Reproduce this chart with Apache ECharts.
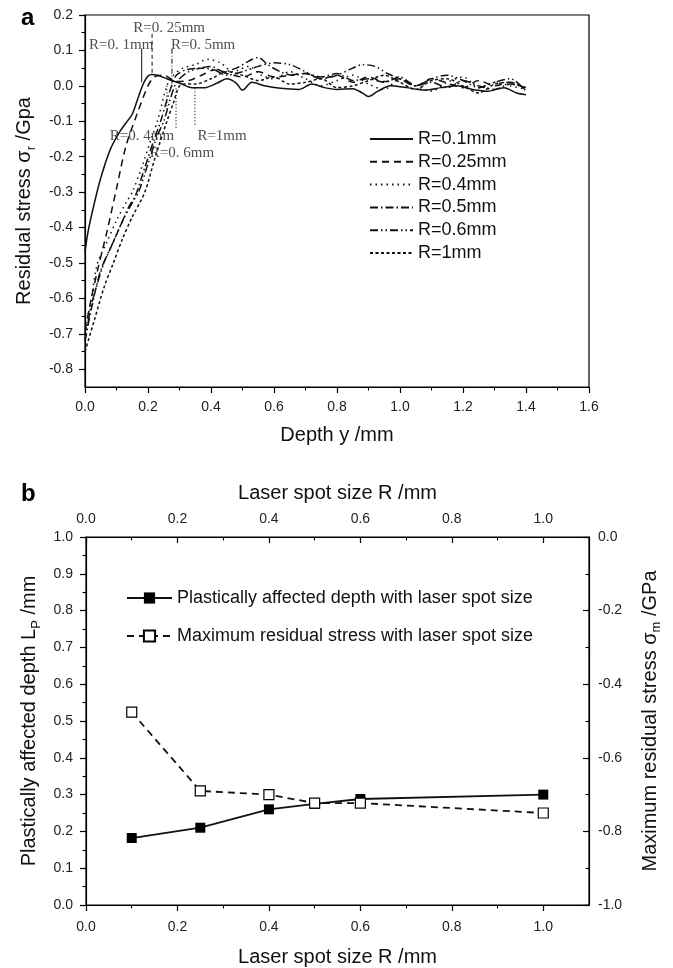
<!DOCTYPE html>
<html><head><meta charset="utf-8">
<script src="https://cdn.jsdelivr.net/npm/echarts@6/dist/echarts.min.js"></script>
<style>html,body{margin:0;padding:0;background:#fff}#c{width:673px;height:968px}</style>
</head><body><div id="c"></div>
<script>
// ---------- Panel a : residual stress vs depth ----------
const seriesNamesA = ['R=0.1mm','R=0.25mm','R=0.4mm','R=0.5mm','R=0.6mm','R=1mm'];
const depthR01 = [0,0.01,0.03,0.05,0.08,0.11,0.13,0.15,0.17,0.19,0.21,0.23,0.26,0.30,0.34,0.38,0.42,0.45,0.48,0.50,0.53,0.57,0.62,0.68,0.72,0.76,0.80,0.85,0.88,0.90,0.93,0.97,1.02,1.08,1.13,1.18,1.23,1.28,1.33,1.37,1.40];
const stressR01 = [-0.47,-0.41,-0.33,-0.26,-0.18,-0.13,-0.105,-0.08,-0.03,0.015,0.032,0.03,0.02,0.008,-0.005,-0.005,0.008,0.02,0.008,-0.012,0.01,0.0,-0.007,-0.01,0.005,-0.005,-0.01,-0.008,-0.02,-0.03,-0.015,0.0,-0.005,-0.012,-0.005,0.0,-0.01,-0.015,-0.005,-0.02,-0.025];
const depthR025 = [0,0.02,0.04,0.07,0.10,0.13,0.165,0.20,0.22,0.25,0.29,0.33,0.37,0.41,0.45,0.50,0.55,0.60,0.65,0.70,0.75,0.80,0.85,0.90,0.95,1.00,1.05,1.10,1.15,1.20,1.25,1.30,1.35,1.40];
const stressR025 = [-0.69,-0.60,-0.52,-0.41,-0.29,-0.17,-0.08,0.0,0.025,0.03,0.012,0.015,0.03,0.045,0.035,0.025,0.04,0.025,0.03,0.035,0.02,0.03,0.01,0.025,0.012,0.02,0.0,0.02,0.008,-0.005,0.015,0.0,0.01,-0.01];
const depthR04 = [0,0.02,0.04,0.07,0.10,0.13,0.15,0.18,0.21,0.23,0.26,0.28,0.31,0.35,0.39,0.43,0.47,0.52,0.56,0.60,0.65,0.70,0.75,0.80,0.85,0.90,0.95,1.00,1.05,1.10,1.15,1.20,1.25,1.30,1.35,1.40];
const stressR04 = [-0.70,-0.60,-0.50,-0.44,-0.38,-0.33,-0.30,-0.23,-0.15,-0.10,0.0,0.03,0.05,0.06,0.075,0.065,0.04,0.055,0.03,0.02,0.04,0.02,0.0,0.015,0.03,0.005,-0.01,0.02,0.0,-0.015,0.01,0.025,-0.005,0.01,0.0,-0.01];
const depthR05 = [0,0.02,0.05,0.08,0.11,0.14,0.16,0.19,0.22,0.24,0.26,0.275,0.29,0.32,0.36,0.40,0.44,0.48,0.52,0.55,0.58,0.62,0.66,0.70,0.75,0.80,0.85,0.90,0.95,1.00,1.05,1.10,1.15,1.20,1.25,1.30,1.35,1.40];
const stressR05 = [-0.72,-0.63,-0.52,-0.46,-0.40,-0.34,-0.31,-0.23,-0.15,-0.10,-0.04,0.0,0.03,0.045,0.05,0.055,0.04,0.05,0.07,0.08,0.06,0.04,0.03,0.035,0.025,0.035,0.015,0.02,0.01,0.025,0.0,0.01,-0.005,0.015,0.0,-0.01,0.005,-0.005];
const depthR06 = [0,0.02,0.06,0.09,0.12,0.15,0.17,0.20,0.23,0.25,0.27,0.285,0.30,0.33,0.37,0.41,0.45,0.50,0.55,0.60,0.65,0.70,0.75,0.80,0.85,0.88,0.92,0.96,1.00,1.05,1.10,1.15,1.20,1.25,1.30,1.35,1.40];
const stressR06 = [-0.72,-0.62,-0.50,-0.44,-0.38,-0.33,-0.30,-0.22,-0.14,-0.10,-0.04,0.0,0.02,0.04,0.05,0.045,0.03,0.04,0.055,0.065,0.06,0.04,0.02,0.03,0.05,0.06,0.055,0.035,0.02,0.0,0.02,0.03,0.015,-0.005,0.01,0.02,-0.015];
const depthR1 = [0,0.03,0.06,0.09,0.12,0.15,0.19,0.22,0.26,0.28,0.30,0.32,0.35,0.40,0.45,0.50,0.55,0.60,0.65,0.70,0.75,0.80,0.85,0.90,0.95,1.00,1.05,1.10,1.15,1.20,1.25,1.30,1.35,1.40];
const stressR1 = [-0.75,-0.66,-0.57,-0.50,-0.43,-0.37,-0.30,-0.21,-0.10,-0.05,0.0,0.005,0.005,0.02,0.04,0.03,0.015,0.025,0.005,0.01,0.02,-0.005,0.0,0.015,0.03,0.01,-0.01,0.015,0.02,0.0,-0.02,0.005,0.01,-0.01];

// leader lines and annotation labels in panel a (data coordinates)
const leaderDepth  = [0.18, 0.213, 0.26, 0.276, 0.289, 0.349];
const leaderTop    = [0.105, 0.147, 0.0, 0.105, -0.007, -0.007];
const leaderBottom = [0.01, 0.03, -0.069, -0.005, -0.12, -0.115];
const annoText   = ['R=0. 1mm','R=0. 25mm','R=0. 4mm','R=0. 5mm','R=0. 6mm','R=1mm'];
const annoDepth  = [0.115, 0.267, 0.181, 0.375, 0.308, 0.435];
const annoStress = [0.115, 0.163, -0.143, 0.115, -0.191, -0.143];

// panel a tick labels
const aXMajor = [0,0.2,0.4,0.6,0.8,1.0,1.2,1.4,1.6];
const aXMinor = [0.1,0.3,0.5,0.7,0.9,1.1,1.3,1.5];
const aYMajor = [-0.8,-0.7,-0.6,-0.5,-0.4,-0.3,-0.2,-0.1,0,0.1,0.2];
const aYMinor = [-0.75,-0.65,-0.55,-0.45,-0.35,-0.25,-0.15,-0.05,0.05,0.15];

// ---------- Panel b ----------
const spotSize = [0.1,0.25,0.4,0.5,0.6,1.0];
const affectedDepth = [0.182,0.21,0.26,0.275,0.288,0.30];
const maxStress = [-0.476,-0.69,-0.70,-0.723,-0.723,-0.75];
const seriesNamesB = ['Plastically affected depth with laser spot size','Maximum residual stress with laser spot size'];
const bXMajor = [0,0.2,0.4,0.6,0.8,1.0];
const bXMinor = [0.1,0.3,0.5,0.7,0.9];
const bYLMajor = [0,0.1,0.2,0.3,0.4,0.5,0.6,0.7,0.8,0.9,1.0];
const bYLMinor = [0.05,0.15,0.25,0.35,0.45,0.55,0.65,0.75,0.85,0.95];
const bYRMajor = [-1.0,-0.8,-0.6,-0.4,-0.2,0];
const bYRMinor = [-0.9,-0.7,-0.5,-0.3,-0.1];

const FONT = 'Liberation Sans, Arial, sans-serif';
const BLK = '#111';
const TITLE_FS = 20;
const zip = (a,b) => a.map((v,i)=>[v,b[i]]);

function majorAxis(o){
  return Object.assign({
    type:'value', splitLine:{show:false},
    axisLine:{show:true, onZero:false, lineStyle:{color:'#000', width:1.2}},
    axisTick:{show:true, inside:o.inside||false, length:6, customValues:o.ticks, lineStyle:{color:'#000', width:1.2}},
    axisLabel:{show:true, customValues:o.ticks, formatter:v=>Number(v).toFixed(1), fontSize:14, color:'#222', fontFamily:FONT, margin:o.margin||12},
    nameTextStyle:{fontSize:TITLE_FS, color:BLK, fontFamily:FONT}
  }, o.extra);
}
function minorAxis(o){
  return Object.assign({
    type:'value', splitLine:{show:false},
    axisLine:{show:false, onZero:false},
    axisTick:{show:true, inside:o.inside||false, length:3.5, customValues:o.ticks, lineStyle:{color:'#000', width:1.1}},
    axisLabel:{show:false}
  }, o.extra);
}

const dashes = ['solid',[7,5],[1.5,4],[8,3,1.5,3],[8,3,1.5,3,1.5,3],[3,2.5]];
const depthsA = [depthR01,depthR025,depthR04,depthR05,depthR06,depthR1];
const stressesA = [stressR01,stressR025,stressR04,stressR05,stressR06,stressR1];

const series = [];
seriesNamesA.forEach((n,i)=>{
  series.push({
    name:n, type:'line', xAxisIndex:0, yAxisIndex:0, symbol:'none', smooth:0.3,
    data: zip(depthsA[i], stressesA[i]),
    lineStyle:{color:BLK, width:1.5, type:dashes[i]}, itemStyle:{color:BLK}, z:3
  });
  series.push({
    name:'leader'+i, type:'line', xAxisIndex:0, yAxisIndex:0, symbol:'none', silent:true,
    data:[[leaderDepth[i],leaderTop[i]],[leaderDepth[i],leaderBottom[i]]],
    lineStyle:{color:BLK, width:1, type: i===0 ? 'solid' : (i===1 ? [4,3] : (i===3 ? [5,2,1,2] : [1.2,2]))}, z:2
  });
});
series.push({
  name:'annotations', type:'scatter', xAxisIndex:0, yAxisIndex:0, symbolSize:0, silent:true,
  data: annoText.map((t,i)=>({name:t, value:[annoDepth[i], annoStress[i]]})),
  label:{show:true, position:'inside', formatter:p=>p.name, fontFamily:'Liberation Serif, Times New Roman, serif', fontSize:15, color:'#222'},
  z:4
});
series.push({
  name:seriesNamesB[0], type:'line', xAxisIndex:2, yAxisIndex:2, data:zip(spotSize, affectedDepth),
  symbol:'rect', symbolSize:10, lineStyle:{color:BLK, width:1.8}, itemStyle:{color:'#000'}, z:4
});
series.push({
  name:seriesNamesB[1], type:'line', xAxisIndex:2, yAxisIndex:4, data:zip(spotSize, maxStress),
  symbol:'rect', symbolSize:10, lineStyle:{color:BLK, width:1.8, type:[7,5]},
  itemStyle:{color:'#fff', borderColor:'#000', borderWidth:1.2}, z:5
});

const subRich = {sub:{fontSize:13, lineHeight:14, verticalAlign:'bottom', fontFamily:FONT, color:BLK}};

const option = {
  backgroundColor:'#fff',
  animation:false,
  title:[
    {text:'a', left:16, top:1, textStyle:{fontSize:24, fontWeight:'bold', fontFamily:FONT, color:'#000'}},
    {text:'b', left:16, top:477, textStyle:{fontSize:24, fontWeight:'bold', fontFamily:FONT, color:'#000'}}
  ],
  grid:[
    {left:85, top:15, width:504, height:372, show:true, borderColor:'#000', borderWidth:1.2, backgroundColor:'transparent'},
    {left:86, top:537, width:503, height:368, show:true, borderColor:'#000', borderWidth:1.2, backgroundColor:'transparent'}
  ],
  legend:[
    {data:seriesNamesA, orient:'vertical', left:364, top:125, itemWidth:43, itemHeight:14, itemGap:4.8,
     itemStyle:{color:'rgba(0,0,0,0)', borderColor:'rgba(0,0,0,0)', borderWidth:0},
     textStyle:{fontSize:18, color:BLK, fontFamily:FONT}, selectedMode:false},
    {data:seriesNamesB, orient:'vertical', left:121, top:584, itemWidth:45, itemHeight:14, itemGap:20,
     textStyle:{fontSize:18, color:BLK, fontFamily:FONT}, selectedMode:false}
  ],
  xAxis:[
    majorAxis({ticks:aXMajor, margin:13, extra:{gridIndex:0, min:0, max:1.6, position:'bottom',
      name:'Depth y /mm', nameLocation:'middle', nameGap:38}}),
    minorAxis({ticks:aXMinor, extra:{gridIndex:0, min:0, max:1.6, position:'bottom'}}),
    majorAxis({ticks:bXMajor, margin:15, extra:{gridIndex:1, min:0, max:1.1, position:'bottom',
      name:'Laser spot size R /mm', nameLocation:'middle', nameGap:42}}),
    minorAxis({ticks:bXMinor, extra:{gridIndex:1, min:0, max:1.1, position:'bottom'}}),
    majorAxis({ticks:bXMajor, inside:true, margin:11, extra:{gridIndex:1, min:0, max:1.1, position:'top',
      name:'Laser spot size R /mm', nameLocation:'middle', nameGap:34}}),
    minorAxis({ticks:bXMinor, inside:true, extra:{gridIndex:1, min:0, max:1.1, position:'top'}})
  ],
  yAxis:[
    majorAxis({ticks:aYMajor, margin:12, extra:{gridIndex:0, min:-0.85, max:0.2, position:'left',
      name:'Residual stress σ{sub|r} /Gpa', nameLocation:'middle', nameGap:44, nameRotate:90,
      nameTextStyle:{fontSize:TITLE_FS, color:BLK, fontFamily:FONT, lineHeight:26, rich:subRich}}}),
    minorAxis({ticks:aYMinor, extra:{gridIndex:0, min:-0.85, max:0.2, position:'left'}}),
    majorAxis({ticks:bYLMajor, margin:13, extra:{gridIndex:1, min:0, max:1.0, position:'left',
      name:'Plastically affected depth L{sub|P} /mm', nameLocation:'middle', nameGap:42, nameRotate:90,
      nameTextStyle:{fontSize:TITLE_FS, color:BLK, fontFamily:FONT, lineHeight:26, rich:subRich}}}),
    minorAxis({ticks:bYLMinor, extra:{gridIndex:1, min:0, max:1.0, position:'left'}}),
    majorAxis({ticks:bYRMajor, inside:true, margin:9, extra:{gridIndex:1, min:-1.0, max:0, position:'right',
      name:'Maximum residual stress σ{sub|m} /GPa', nameLocation:'middle', nameGap:48, nameRotate:90,
      nameTextStyle:{fontSize:TITLE_FS, color:BLK, fontFamily:FONT, lineHeight:26, rich:subRich}}}),
    minorAxis({ticks:bYRMinor, inside:true, extra:{gridIndex:1, min:-1.0, max:0, position:'right'}})
  ],
  series: series
};
const chart = echarts.init(document.getElementById('c'), null, {renderer:'canvas'});
chart.setOption(option);
</script></body></html>
